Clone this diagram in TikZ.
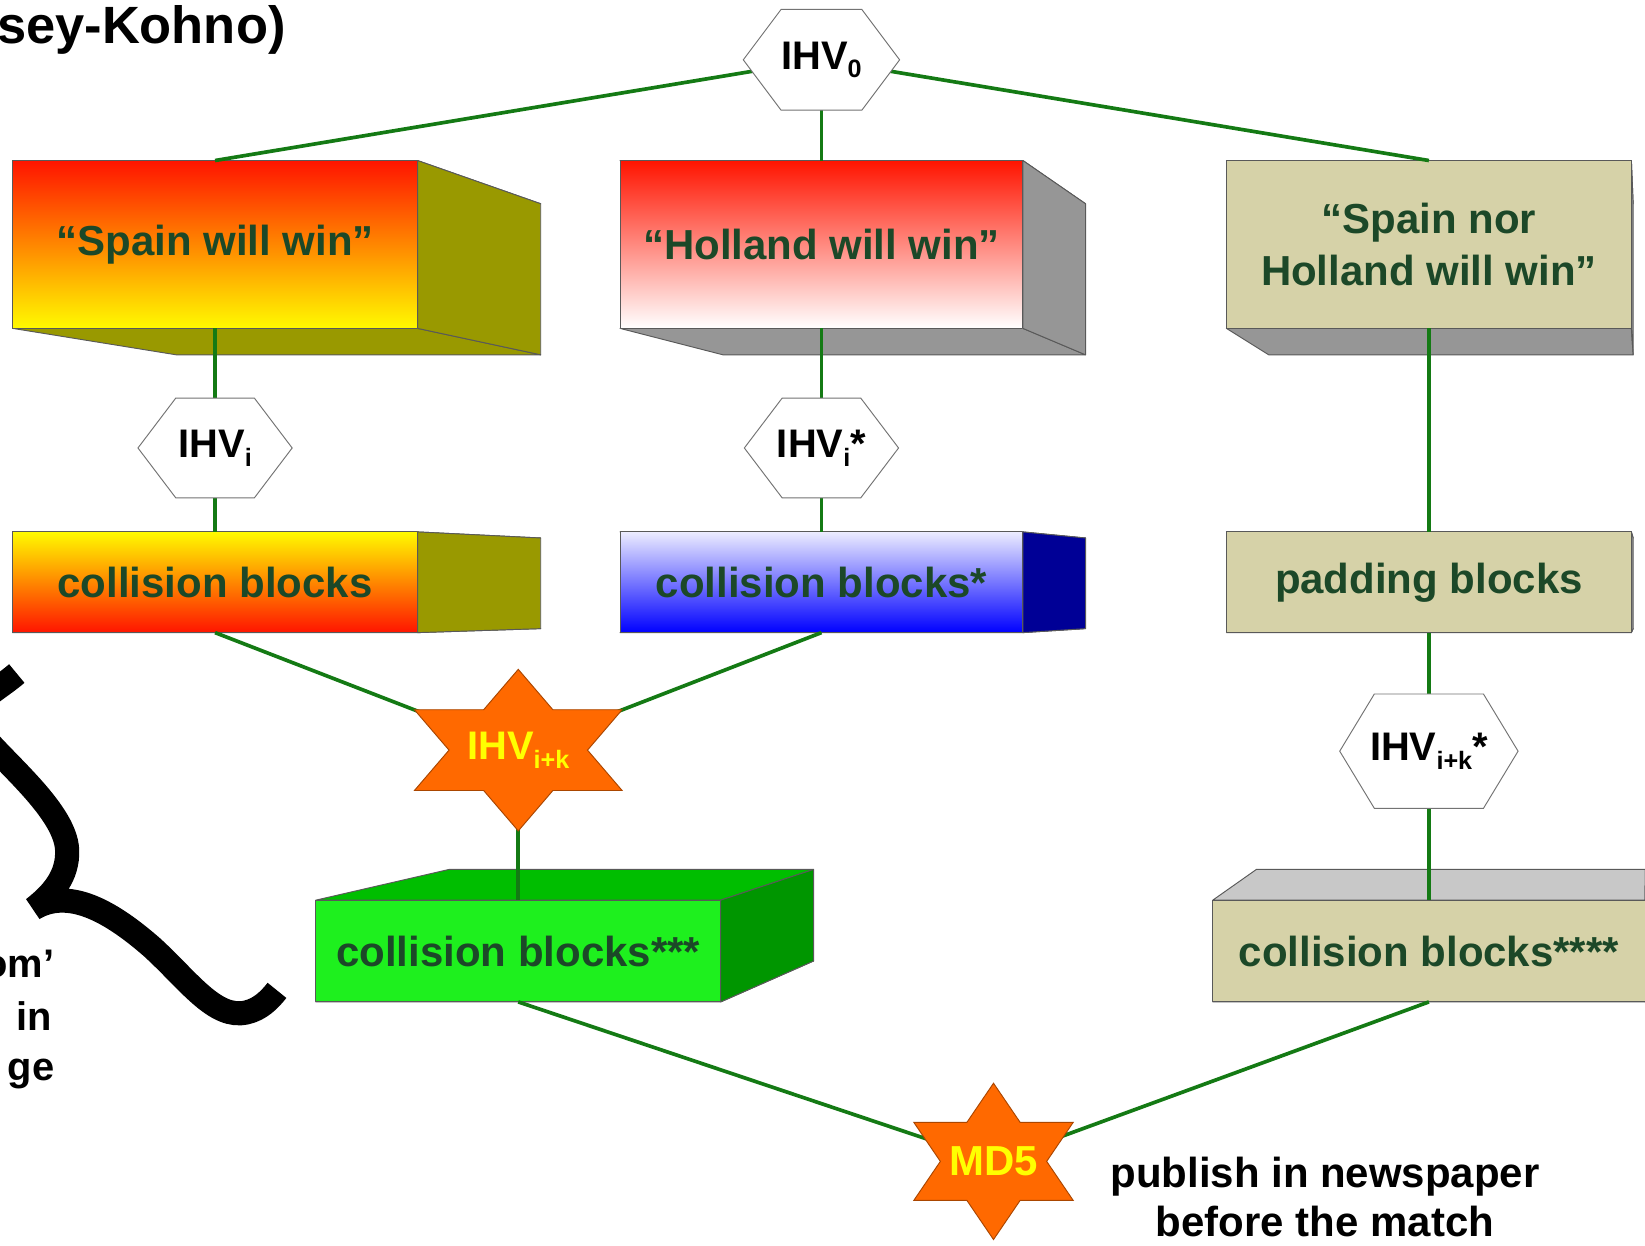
\documentclass[tikz,border=0pt]{standalone}
\usepackage{fontspec}
\setmainfont{Liberation Sans}
\usetikzlibrary{calc}

\pgfdeclarelayer{bg}
\pgfdeclarelayer{boxes}
\pgfdeclarelayer{wires}
\pgfdeclarelayer{marks}
\pgfsetlayers{bg,boxes,wires,marks,main}

\definecolor{wire}{RGB}{20,122,20}
\definecolor{ink}{RGB}{28,72,40}
\definecolor{oliveface}{RGB}{153,153,0}
\definecolor{greyface}{RGB}{150,150,150}
\definecolor{lightgrey}{RGB}{200,200,200}
\definecolor{tanface}{RGB}{214,210,168}
\definecolor{navyface}{RGB}{0,0,150}
\definecolor{hotred}{RGB}{255,20,0}
\definecolor{sunyellow}{RGB}{255,250,0}
\definecolor{paleblue}{RGB}{236,236,255}
\definecolor{pureblue}{RGB}{0,0,255}
\definecolor{limegreen}{RGB}{30,240,30}
\definecolor{midgreen}{RGB}{0,190,0}
\definecolor{deepgreen}{RGB}{0,150,0}
\definecolor{starorange}{RGB}{255,105,0}
\definecolor{starline}{RGB}{170,70,0}
\definecolor{staryellow}{RGB}{255,255,0}

\tikzset{
  wire/.style={draw=wire, line width=3.5},
  face/.style={draw=black!65, line width=0.9, line join=round},
  boxlabel/.style={font=\bfseries\fontsize{40}{49}\selectfont, text=ink,
    align=center, inner sep=0, outer sep=0},
  hexlabel/.style={font=\bfseries\fontsize{38}{38}\selectfont, inner sep=0, outer sep=0},
  hexface/.style={fill=white, draw=black!55, line width=0.9},
  starlabel/.style={font=\bfseries\fontsize{38}{38}\selectfont, text=staryellow, inner sep=0},
  starface/.style={fill=starorange, draw=starline, line width=0.9, line join=miter},
  plain/.style={font=\bfseries\fontsize{40}{46}\selectfont, align=center, inner sep=0},
  brace/.style={draw=black, line width=23, line cap=butt}
}

% lowered small subscript
\newcommand\lowsub[1]{\raisebox{-0.22em}{\fontsize{24}{24}\selectfont #1}}

% block with front face, side face and top/bottom face receding to (vp)
\newcommand\cuboid[4]{%
  \coordinate (#1-a) at (#1.north west);
  \coordinate (#1-b) at (#1.north east);
  \coordinate (#1-c) at (#1.south east);
  \coordinate (#1-d) at (#1.south west);
  \coordinate (#1-A) at ($(#1-a)!0.1!(vp)$);
  \coordinate (#1-B) at ($(#1-b)!0.1!(vp)$);
  \coordinate (#1-C) at ($(#1-c)!0.1!(vp)$);
  \coordinate (#1-D) at ($(#1-d)!0.1!(vp)$);
  \begin{pgfonlayer}{boxes}
    \filldraw[face, fill=#4] (#1-a) -- (#1-b) -- (#1-B) -- (#1-A) -- cycle;
    \filldraw[face, fill=#4] (#1-d) -- (#1-c) -- (#1-C) -- (#1-D) -- cycle;
    \filldraw[face, fill=#3] (#1-b) -- (#1-B) -- (#1-C) -- (#1-c) -- cycle;
    \draw[face, #2] (#1-a) rectangle (#1-c);
  \end{pgfonlayer}}

% hexagon frame around a node, #2 = horizontal run of the slanted edges
\newcommand\hexframe[2]{%
  \begin{pgfonlayer}{marks}
    \filldraw[hexface] (#1.west) -- ([xshift=#2pt]#1.north west)
      -- ([xshift=-#2pt]#1.north east) -- (#1.east)
      -- ([xshift=-#2pt]#1.south east) -- ([xshift=#2pt]#1.south west) -- cycle;
  \end{pgfonlayer}}

% six-pointed star around a node: #2 half width, #3 outer radius
\newcommand\starframe[3]{%
  \begin{pgfonlayer}{marks}
    \filldraw[starface]
      ([shift={(0,-#3)}]#1.center) -- ([shift={(#2/3,-#3/2)}]#1.center)
      -- ([shift={(#2,-#3/2)}]#1.center) -- ([shift={(2*#2/3,0)}]#1.center)
      -- ([shift={(#2,#3/2)}]#1.center) -- ([shift={(#2/3,#3/2)}]#1.center)
      -- ([shift={(0,#3)}]#1.center) -- ([shift={(-#2/3,#3/2)}]#1.center)
      -- ([shift={(-#2,#3/2)}]#1.center) -- ([shift={(-2*#2/3,0)}]#1.center)
      -- ([shift={(-#2,-#3/2)}]#1.center) -- ([shift={(-#2/3,-#3/2)}]#1.center)
      -- cycle;
  \end{pgfonlayer}}

\begin{document}
\begin{tikzpicture}[x=1pt,y=-1pt]
\useasboundingbox (0,0) rectangle (1568,1187);
\begin{pgfonlayer}{bg}
  \fill[white] (0,0) rectangle (1568,1187);
\end{pgfonlayer}
\coordinate (vp) at (1572,565);

% ---- message blocks
\node[boxlabel, minimum width=386pt, minimum height=160pt] (sp) at (205,233) {“Spain will win”};
\cuboid{sp}{top color=hotred, bottom color=sunyellow}{oliveface}{oliveface}
\node[boxlabel, minimum width=384pt, minimum height=160pt] (ho) at (783,233) {“Holland will win”};
\cuboid{ho}{top color=hotred, bottom color=white}{greyface}{greyface}
\node[boxlabel, minimum width=386pt, minimum height=160pt] (sn) at (1362,233) {“Spain nor\\Holland will win”};
\cuboid{sn}{fill=tanface}{greyface}{greyface}

% ---- second row of blocks
\node[boxlabel, minimum width=386pt, minimum height=96pt] (cb) at (205,555) {collision blocks};
\cuboid{cb}{top color=sunyellow, bottom color=hotred}{oliveface}{oliveface}
\node[boxlabel, minimum width=384pt, minimum height=96pt] (cbs) at (783,555) {collision blocks*};
\cuboid{cbs}{top color=paleblue, bottom color=pureblue}{navyface}{navyface}
\node[boxlabel, minimum width=386pt, minimum height=96pt] (pad) at (1362,555) {padding blocks};
\cuboid{pad}{fill=tanface}{greyface}{greyface}

% ---- third row of blocks
\node[boxlabel, minimum width=386pt, minimum height=97pt] (cb3) at (494,906.5) {collision blocks***};
\cuboid{cb3}{fill=limegreen}{deepgreen}{midgreen}
\node[boxlabel, minimum width=412pt, minimum height=97pt] (cb4) at (1362,906.5) {collision blocks****};
\cuboid{cb4}{fill=tanface}{greyface}{lightgrey}

% ---- chaining values
\node[hexlabel, minimum width=149pt, minimum height=96pt] (h0) at (783,57) {IHV\lowsub{0}};
\hexframe{h0}{36}
\node[hexlabel, minimum width=147pt, minimum height=95pt] (hi) at (205,427) {IHV\lowsub{i}};
\hexframe{hi}{36}
\node[hexlabel, minimum width=147pt, minimum height=95pt] (his) at (783,427) {IHV\lowsub{i}*};
\hexframe{his}{36}
\node[hexlabel, minimum width=170pt, minimum height=109pt] (hik) at (1362,716) {IHV\lowsub{i+k}*};
\hexframe{hik}{33}

\node[starlabel] (s1) at (494,715) {IHV\lowsub{i+k}};
\starframe{s1}{99}{77}
\node[starlabel, font=\bfseries\fontsize{40}{40}\selectfont] (md) at (947,1107) {MD5};
\starframe{md}{76}{74.5}

% ---- connectors
\begin{pgfonlayer}{wires}
  \draw[wire] (h0.center) -- (sp.north);
  \draw[wire] (h0.center) -- (ho.north);
  \draw[wire] (h0.center) -- (sn.north);
  \draw[wire] (sp.south) -- (hi.center) -- (cb.north);
  \draw[wire] (ho.south) -- (his.center) -- (cbs.north);
  \draw[wire] (sn.south) -- (pad.north);
  \draw[wire] (pad.south) -- (hik.center) -- (cb4.north);
  \draw[wire] (cb.south) -- (s1.center);
  \draw[wire] (cbs.south) -- (s1.center);
  \draw[wire] (s1.center) -- (cb3.north);
  \draw[wire] (cb3.south) -- (md.center);
  \draw[wire] (cb4.south) -- (md.center);
\end{pgfonlayer}

\node[plain] (pub) at (1263,1141) {publish in newspaper\\before the match};

% ---- heading, side note and brace at the left edge
\begin{scope}
  \clip (0,0) rectangle (1568,1187);
  \node[anchor=base west, inner sep=0, font=\bfseries\fontsize{50}{50}\selectfont] (title) at (-3,41) {sey-Kohno)};
  \node[anchor=base east, inner sep=0, font=\bfseries\fontsize{38}{38}\selectfont] (n1) at (52,932) {om’};
  \node[anchor=base east, inner sep=0, font=\bfseries\fontsize{38}{38}\selectfont] (n2) at (50,982) {in};
  \node[anchor=base east, inner sep=0, font=\bfseries\fontsize{38}{38}\selectfont] (n3) at (52,1030) {ge};
  \draw[brace] (16,642) .. controls (-5,660) and (-30,670) .. (-25,690)
    .. controls (-5,720) and (62,770) .. (64,810)
    .. controls (65,835) and (50,852) .. (32,866)
    .. controls (65,846) and (105,868) .. (145,903)
    .. controls (180,935) and (205,972) .. (235,965)
    .. controls (248,962) and (257,953) .. (264,944);
\end{scope}
\end{tikzpicture}
\end{document}
